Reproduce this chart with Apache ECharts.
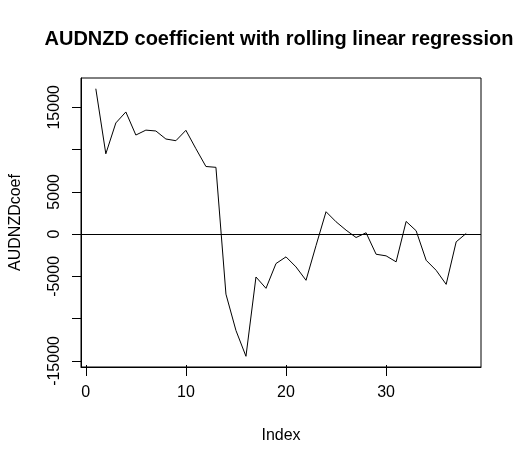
<!DOCTYPE html>
<html>
<head>
<meta charset="utf-8">
<script src="https://cdn.jsdelivr.net/npm/echarts@6/dist/echarts.min.js"></script>
<style>
html,body{margin:0;padding:0;background:#fff;}
#chart{width:522px;height:465px;}
</style>
</head>
<body>
<div id="chart"></div>
<script>
// Data
const indexValues = [1,2,3,4,5,6,7,8,9,10,11,12,13,14,15,16,17,18,19,20,21,22,23,24,25,26,27,28,29,30,31,32,33,34,35,36,37,38];
const coefValues = [17200, 9500, 13150, 14450, 11720, 12300, 12200, 11250, 11050, 12280,
  10100, 8000, 7900, -7100, -11400, -14450, -5070, -6410, -3480, -2690,
  -3880, -5460, -1350, 2650, 1460, 470, -400, 160, -2380, -2570,
  -3280, 1500, 400, -3090, -4280, -5940, -910, 80];
const xTicks = [0, 10, 20, 30];
const yTicks = [-15000, -10000, -5000, 0, 5000, 10000, 15000];
const yTickLabels = [-15000, -5000, 0, 5000, 15000];
const titleText = 'AUDNZD coefficient with rolling linear regression';
const xName = 'Index';
const yName = 'AUDNZDcoef';

// R-style 4% axis extension
function extend(arr){
  const lo = Math.min(...arr), hi = Math.max(...arr);
  const d = (hi - lo) * 0.04;
  return [lo - d, hi + d];
}
const [xMin, xMax] = extend(indexValues);
const [yMin, yMax] = extend(coefValues);

const FONT = '"Liberation Sans", Arial, sans-serif';
const TICK_LEN = 9;
const plain = v => String(Math.round(v));
const chart = echarts.init(document.getElementById('chart'), null, {renderer: 'canvas'});
chart.setOption({
  animation: false,
  backgroundColor: '#ffffff',
  graphic: [{
    type: 'text',
    x: 279, y: 39,
    style: {
      text: titleText, align: 'center', verticalAlign: 'middle',
      fontFamily: FONT, fontSize: 20, fontWeight: 'bold', fill: '#000'
    }
  }],
  grid: {
    left: 79, top: 78, width: 402, height: 289,
    show: true, borderColor: '#000', borderWidth: 1, backgroundColor: 'transparent'
  },
  xAxis: {
    type: 'value',
    min: xMin, max: xMax,
    name: xName,
    nameLocation: 'middle',
    nameGap: 61,
    nameTextStyle: {fontFamily: FONT, fontSize: 16, color: '#000'},
    axisLine: {show: true, onZero: false, lineStyle: {color: '#000', width: 1}},
    splitLine: {show: false},
    axisTick: {show: false},
    axisLabel: {fontFamily: FONT, fontSize: 16, color: '#000', margin: 18, customValues: xTicks, formatter: plain}
  },
  yAxis: {
    type: 'value',
    min: yMin, max: yMax,
    name: yName,
    nameLocation: 'middle',
    nameGap: 57,
    nameRotate: 90,
    nameTextStyle: {fontFamily: FONT, fontSize: 16, color: '#000'},
    axisLine: {show: true, onZero: false, lineStyle: {color: '#000', width: 1}},
    splitLine: {show: false},
    axisTick: {show: true, length: TICK_LEN, lineStyle: {color: '#000', width: 1}, customValues: yTicks},
    axisLabel: {fontFamily: FONT, fontSize: 16, color: '#000', margin: 18, rotate: 90, customValues: yTickLabels, formatter: plain}
  },
  series: [{
    type: 'line',
    data: indexValues.map((x, i) => [x, coefValues[i]]),
    showSymbol: false,
    symbol: 'none',
    lineStyle: {color: '#000', width: 1},
    markLine: {
      silent: true,
      symbol: ['none', 'none'],
      label: {show: false},
      lineStyle: {color: '#000', width: 1, type: 'solid'},
      data: [{yAxis: 0}]
    }
  }, {
    // x-axis tick marks, placed through the axis scale
    type: 'custom',
    clip: false,
    data: xTicks.map(v => [v, yMin]),
    renderItem: function (params, api) {
      const p = api.coord([api.value(0), api.value(1)]);
      const x = Math.round(p[0]) + 0.5;
      const y = p[1];
      return {
        type: 'line',
        shape: {x1: x, y1: y - 2, x2: x, y2: y + TICK_LEN},
        style: {stroke: '#000', lineWidth: 1}
      };
    }
  }]
});
</script>
</body>
</html>
